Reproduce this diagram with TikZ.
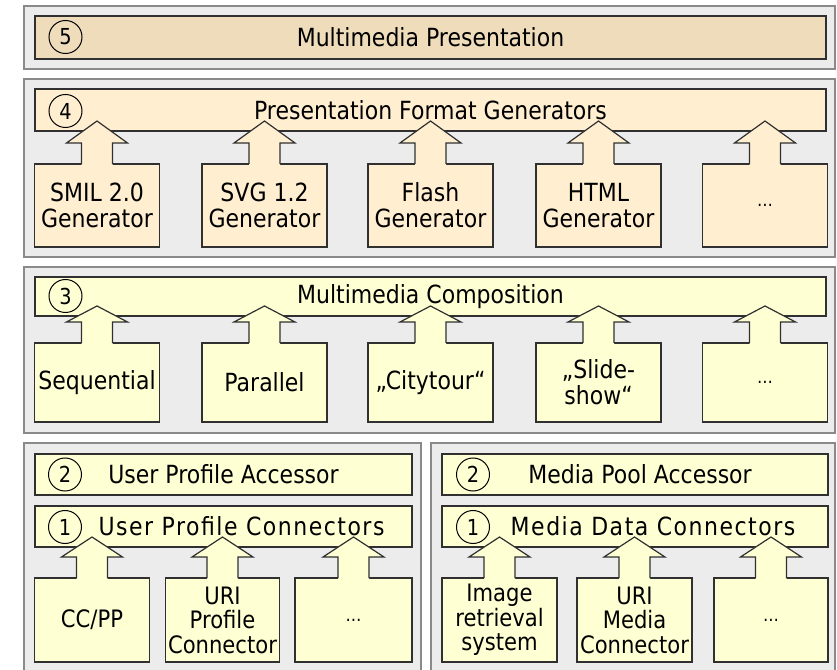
\documentclass[tikz,border=0pt]{standalone}
\usepackage{fontspec}
\setmainfont[FakeStretch=0.88]{DejaVu Sans}
\usetikzlibrary{calc}

\definecolor{tanband}{HTML}{EEDCBA}
\definecolor{peach}{HTML}{FFEFD0}
\definecolor{paleyellow}{HTML}{FFFFD4}
\definecolor{panelgray}{HTML}{ECECEC}
\definecolor{panelline}{HTML}{8A8A8A}
\definecolor{boxline}{HTML}{303030}

% block arrow from a box up into its band
\newcommand{\feedarrow}[3]{%
  \fill[#3] ($(#1.north)+(-15.5,-1)$) -- ++(0,22) -- ++(-15,0) -- ($(#1.north |- #2.south)+(0,10)$) -- ($(#1.north)+(30.5,21)$) -- ++(-15,0) -- ++(0,-22) -- cycle;
  \draw[draw=boxline, line width=1.2pt] ($(#1.north)+(-15.5,0)$) -- ++(0,21) -- ++(-15,0) -- ($(#1.north |- #2.south)+(0,10)$) -- ($(#1.north)+(30.5,21)$) -- ++(-15,0) -- ++(0,-21);
}

\begin{document}
\begin{tikzpicture}[x=1pt,y=1pt]
    \tikzstyle{panel} = [rectangle, draw=panelline, fill=panelgray, line width=1.5pt, inner sep=0pt, outer sep=0pt]
    \tikzstyle{band} = [rectangle, draw=boxline, line width=1.2pt, inner sep=0pt, outer sep=0pt, text centered, font=\fontsize{25}{26}\selectfont]
    \tikzstyle{gen} = [rectangle, draw=boxline, line width=1.2pt, inner sep=0pt, outer sep=0pt, align=center, font=\fontsize{25}{26}\selectfont]
    \tikzstyle{conn} = [gen, font=\fontsize{24}{24.5}\selectfont]
    \tikzstyle{num} = [circle, draw=black, line width=1pt, minimum size=33pt, inner sep=0pt, font=\fontsize{22}{22}\selectfont]
    \useasboundingbox (0,0) rectangle (837,669);
    % Panels
    \node (panelfive) [panel, minimum width=811pt, minimum height=63pt] at (429.5,631.5) {};
    \node (panelfour) [panel, minimum width=811pt, minimum height=178pt] at (429.5,501) {};
    \node (panelthree) [panel, minimum width=811pt, minimum height=166pt] at (429.5,319) {};
    \node (panelprofile) [panel, minimum width=397pt, minimum height=246pt] at (222.5,103) {};
    \node (panelmedia) [panel, minimum width=404pt, minimum height=246pt] at (633,103) {};
    % Bands
    \node (presentation) [band, fill=tanband, minimum width=791pt, minimum height=43pt] at (430.5,631.5) {Multimedia Presentation};
    \node (formatgen) [band, fill=peach, minimum width=791pt, minimum height=42pt] at (430.5,559) {Presentation Format Generators};
    \node (composition) [band, fill=paleyellow, minimum width=791pt, minimum height=39pt] at (430.5,372.5) {Multimedia Composition};
    \node (profileacc) [band, fill=paleyellow, minimum width=377pt, minimum height=41pt] at (223.5,194.5) {User Profile Accessor};
    \node (profileconn) [band, fill=paleyellow, minimum width=377pt, minimum height=41pt] at (223.5,142.5) {\hspace*{36pt}\addfontfeature{LetterSpace=6}User Profile Connectors};
    \node (mediaacc) [band, fill=paleyellow, minimum width=386pt, minimum height=41pt] at (635,194.5) {\hspace*{10pt}Media Pool Accessor};
    \node (mediaconn) [band, fill=paleyellow, minimum width=386pt, minimum height=41pt] at (635,142.5) {\hspace*{36pt}\addfontfeature{LetterSpace=6}Media Data Connectors};
    % Generators
    \node (smil) [gen, fill=peach, minimum width=125pt, minimum height=83pt] at (97,463.5) {SMIL 2.0\\Generator};
    \node (svg) [gen, fill=peach, minimum width=125pt, minimum height=83pt] at (264.5,463.5) {SVG 1.2\\Generator};
    \node (flash) [gen, fill=peach, minimum width=125pt, minimum height=83pt] at (430.5,463.5) {Flash\\Generator};
    \node (html) [gen, fill=peach, minimum width=125pt, minimum height=83pt] at (598.5,463.5) {HTML\\Generator};
    \node (moregen) [gen, fill=peach, minimum width=125pt, minimum height=83pt, font=\fontsize{18}{18}\selectfont] at (765,463.5) {\dots};
    % Compositions
    \node (sequential) [gen, fill=paleyellow, minimum width=125pt, minimum height=79pt] at (97,286.5) {Sequential};
    \node (parallel) [gen, fill=paleyellow, minimum width=125pt, minimum height=79pt] at (264.5,286.5) {Parallel};
    \node (citytour) [gen, fill=paleyellow, minimum width=125pt, minimum height=79pt] at (430.5,286.5) {„Citytour“};
    \node (slideshow) [gen, fill=paleyellow, minimum width=125pt, minimum height=79pt] at (598.5,286.5) {„Slide-\\show“};
    \node (morecomp) [gen, fill=paleyellow, minimum width=125pt, minimum height=79pt, font=\fontsize{18}{18}\selectfont] at (765,286.5) {\dots};
    % Connectors
    \node (ccpp) [conn, fill=paleyellow, minimum width=115pt, minimum height=84pt] at (92,49) {CC/PP};
    \node (uriprofile) [conn, fill=paleyellow, minimum width=114pt, minimum height=84pt] at (222.5,49) {URI\\Profile\\Connector};
    \node (moreprofile) [conn, fill=paleyellow, minimum width=117pt, minimum height=84pt, font=\fontsize{18}{18}\selectfont] at (353.5,49) {\dots};
    \node (imageret) [conn, fill=paleyellow, minimum width=115pt, minimum height=84pt] at (499.5,49) {Image\\retrieval\\system};
    \node (urimedia) [conn, fill=paleyellow, minimum width=115pt, minimum height=84pt] at (634.5,49) {URI\\Media\\Connector};
    \node (moremedia) [conn, fill=paleyellow, minimum width=114pt, minimum height=84pt, font=\fontsize{18}{18}\selectfont] at (771,49) {\dots};
    % Arrows
    \feedarrow{smil}{formatgen}{peach}
    \feedarrow{svg}{formatgen}{peach}
    \feedarrow{flash}{formatgen}{peach}
    \feedarrow{html}{formatgen}{peach}
    \feedarrow{moregen}{formatgen}{peach}
    \feedarrow{sequential}{composition}{paleyellow}
    \feedarrow{parallel}{composition}{paleyellow}
    \feedarrow{citytour}{composition}{paleyellow}
    \feedarrow{slideshow}{composition}{paleyellow}
    \feedarrow{morecomp}{composition}{paleyellow}
    \feedarrow{ccpp}{profileconn}{paleyellow}
    \feedarrow{uriprofile}{profileconn}{paleyellow}
    \feedarrow{moreprofile}{profileconn}{paleyellow}
    \feedarrow{imageret}{mediaconn}{paleyellow}
    \feedarrow{urimedia}{mediaconn}{paleyellow}
    \feedarrow{moremedia}{mediaconn}{paleyellow}
    % Layer numbers
    \node (numfive) [num] at (65.5,632) {5};
    \node (numfour) [num] at (65.5,558) {4};
    \node (numthree) [num] at (65.5,373) {3};
    \node (numtwoleft) [num] at (65,194.5) {2};
    \node (numoneleft) [num] at (65,142) {1};
    \node (numtworight) [num] at (473,194.5) {2};
    \node (numoneright) [num] at (473,142) {1};
\end{tikzpicture}
\end{document}
